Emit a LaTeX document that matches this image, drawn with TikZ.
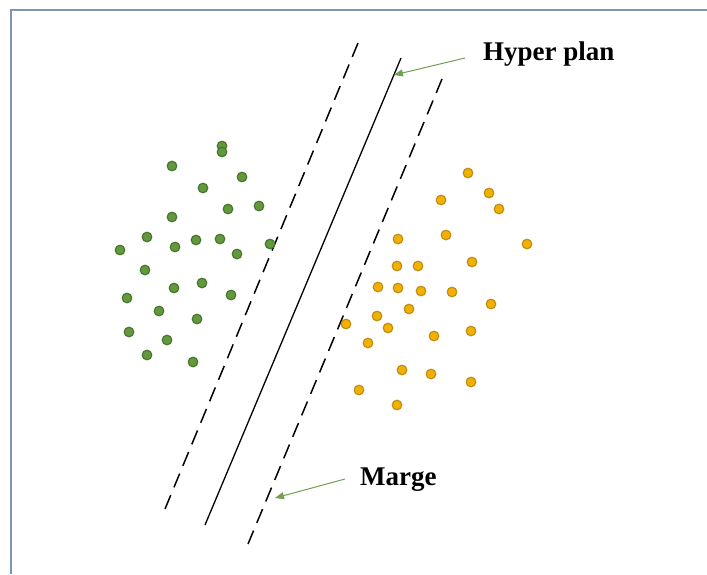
\documentclass[tikz,border=0pt]{standalone}
\usepackage{fontspec}
\setmainfont{Liberation Serif}
\usetikzlibrary{arrows.meta}
\definecolor{framec}{RGB}{122,150,180}
\definecolor{gfill}{RGB}{100,152,62}
\definecolor{gedge}{RGB}{72,118,42}
\definecolor{ofill}{RGB}{240,178,0}
\definecolor{oedge}{RGB}{196,140,16}
\definecolor{arrc}{RGB}{112,160,80}
\tikzset{
  frameline/.style={draw=framec,line width=1.8pt},
  margin line/.style={draw=black,line width=1.5pt,dash pattern=on 15pt off 8.3pt},
  sepline/.style={draw=black,line width=1.3pt},
  gdot/.style={fill=gfill,draw=gedge,line width=1.2pt},
  odot/.style={fill=ofill,draw=oedge,line width=1.2pt},
  callout/.style={draw=arrc,line width=1pt,-{Triangle[length=9pt,width=7pt]}},
  lbl/.style={font=\fontsize{27}{32}\selectfont\bfseries,anchor=base west,inner sep=0pt}
}
\begin{document}
\begin{tikzpicture}[x=1pt,y=-1pt]
\useasboundingbox (0,0) rectangle (707,574);
\fill[white] (0,0) rectangle (707,574);
% frame
\draw[frameline] (11,574) -- (11,10) -- (707,10);
% lines
\coordinate (l1a) at (358,43); \coordinate (l1b) at (165,509);
\coordinate (l2a) at (401,58); \coordinate (l2b) at (205,525);
\coordinate (l3a) at (442,79); \coordinate (l3b) at (248,544);
\draw[margin line] (l1a) -- (l1b);
\draw[sepline] (l2a) -- (l2b);
\draw[margin line] (l3a) -- (l3b);
% green dots
\foreach \x/\y in {222/146,222/152,172/166,242/177,203/188,228/209,259/206,172/217,147/237,120/250,175/247,196/240,220/239,237/254,270/244,145/270,174/288,202/283,231/295,127/298,159/311,197/319,129/332,167/340,147/355,193/362}
  \path[gdot] (\x,\y) circle (4.8pt);
% orange dots
\foreach \x/\y in {468/173,489/193,441/200,499/209,398/239,446/235,527/244,397/266,418/266,472/262,378/287,398/288,421/291,452/292,491/304,409/309,377/316,346/324,388/328,434/336,471/331,368/343,402/370,431/374,471/382,359/390,397/405}
  \path[odot] (\x,\y) circle (4.8pt);
% labels
\node[lbl] (hp) at (483,60) {Hyper plan};
\node[lbl] (mg) at (360,485) {Marge};
\coordinate (hps) at (465,58); \coordinate (hpt) at (394,75);
\coordinate (mgs) at (345,479); \coordinate (mgt) at (275,498);
\draw[callout] (hps) -- (hpt);
\draw[callout] (mgs) -- (mgt);
\end{tikzpicture}
\end{document}
